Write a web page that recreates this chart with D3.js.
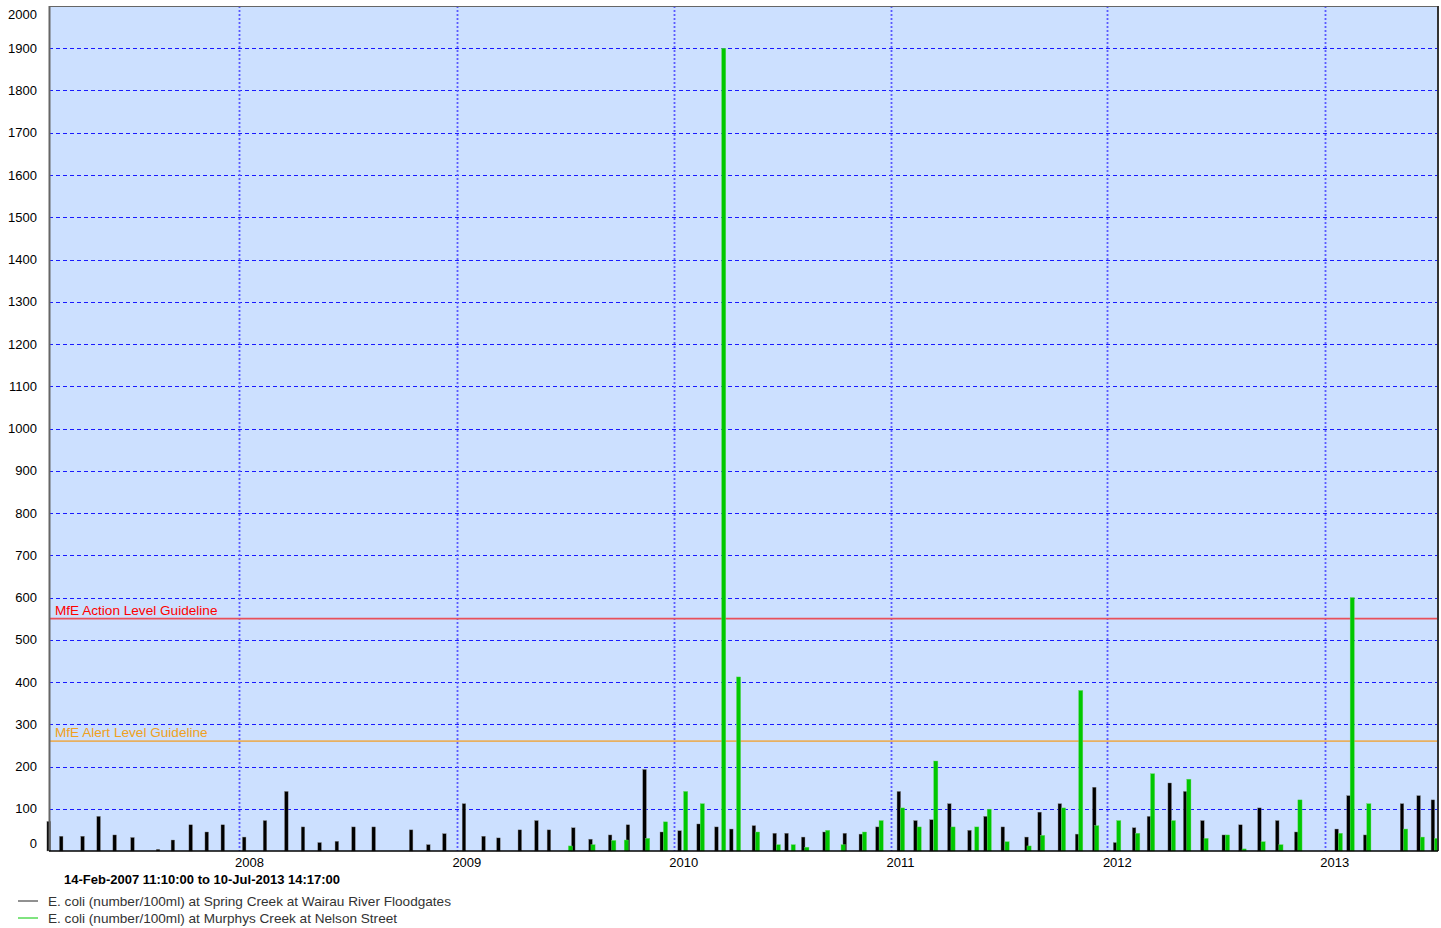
<!DOCTYPE html>
<html>
<head>
<meta charset="utf-8">
<script src="https://cdn.jsdelivr.net/npm/d3@7"></script>
<style>
  body { margin: 0; background: #fff; }
  svg { display: block; font-family: "Liberation Sans", Arial, sans-serif; }
</style>
</head>
<body>
<div id="chart"></div>
<script>
// Spring Creek at Wairau River Floodgates (black)
var springDates = ["2007-02-14","2007-03-07","2007-04-12","2007-05-09","2007-06-05","2007-07-05","2007-08-17","2007-09-11","2007-10-11","2007-11-07","2007-12-04",
  "2008-01-09","2008-02-13","2008-03-20","2008-04-17","2008-05-15","2008-06-13","2008-07-11","2008-08-14","2008-10-16","2008-11-14","2008-12-11",
  "2009-01-13","2009-02-15","2009-03-12","2009-04-17","2009-05-15","2009-06-05","2009-07-16","2009-08-14","2009-09-16","2009-10-16","2009-11-13","2009-12-12",
  "2010-01-11","2010-02-12","2010-03-14","2010-04-08","2010-05-16","2010-06-20","2010-07-10","2010-08-07","2010-09-12","2010-10-16","2010-11-12","2010-12-10",
  "2011-01-15","2011-02-12","2011-03-11","2011-04-10","2011-05-14","2011-06-10","2011-07-09","2011-08-18","2011-09-09","2011-10-13","2011-11-11","2011-12-10",
  "2012-01-14","2012-02-15","2012-03-11","2012-04-15","2012-05-11","2012-06-09","2012-07-15","2012-08-12","2012-09-13","2012-10-13","2012-11-14",
  "2013-01-21","2013-02-10","2013-03-10","2013-05-11","2013-06-08","2013-07-02"];
var springValues = [70,35,35,82,38,32,4,26,62,45,62,
  33,72,141,57,20,23,57,57,50,15,41,
  112,35,31,50,72,50,55,28,38,62,193,45,
  48,64,57,52,60,42,42,33,45,42,40,57,
  141,72,74,112,49,82,57,33,92,112,40,151,
  20,55,82,161,141,72,38,62,102,72,45,
  52,131,38,112,131,121];

// Murphys Creek at Nelson Street (green)
var murphysDates = ["2009-07-05","2009-08-12","2009-09-16","2009-10-07","2009-11-12","2009-12-12",
  "2010-01-15","2010-02-12","2010-03-20","2010-04-14","2010-05-16","2010-06-20","2010-07-15","2010-08-07","2010-09-11","2010-10-07","2010-11-12","2010-12-10",
  "2011-01-15","2011-02-12","2011-03-12","2011-04-10","2011-05-20","2011-06-10","2011-07-10","2011-08-16","2011-09-08","2011-10-13","2011-11-11","2011-12-08",
  "2012-01-14","2012-02-15","2012-03-11","2012-04-15","2012-05-11","2012-06-09","2012-07-15","2012-08-12","2012-09-13","2012-10-13","2012-11-14",
  "2013-01-21","2013-02-10","2013-03-10","2013-05-11","2013-06-08","2013-07-02"];
var murphysValues = [12,15,25,26,30,69,
  141,112,1900,412,45,15,15,9,49,15,45,72,
  102,57,213,57,57,99,22,12,37,102,380,60,
  72,42,183,72,170,30,38,5,22,15,121,
  42,600,112,52,33,30];

var guideValues = [550, 260];
var guideLabels = ["MfE Action Level Guideline", "MfE Alert Level Guideline"];
var guideColors = ["#e8505a", "#e8b060"];
var guideTextColors = ["#ff0000", "#f0a020"];

var yTicks = d3.range(0, 2001, 100);
var periodText = "14-Feb-2007 11:10:00 to 10-Jul-2013 14:17:00";
var seriesNames = ["E. coli (number/100ml) at Spring Creek at Wairau River Floodgates",
                   "E. coli (number/100ml) at Murphys Creek at Nelson Street"];
var seriesColors = ["#000000", "#00c800"];

var parseDate = d3.timeParse("%Y-%m-%d");
var parseFull = d3.timeParse("%d-%b-%Y %H:%M:%S");

var width = 1441, height = 928;
var margin = { top: 6, right: 3, bottom: 77, left: 49 };
var plotW = width - margin.left - margin.right;
var plotH = height - margin.top - margin.bottom;

var svg = d3.select("#chart").append("svg")
    .attr("width", width)
    .attr("height", height);

var x = d3.scaleTime()
    .domain([parseFull("14-Feb-2007 11:10:00"), parseFull("10-Jul-2013 14:17:00")])
    .range([0, plotW]);
var y = d3.scaleLinear()
    .domain([0, 2000])
    .range([plotH, 0]);

var g = svg.append("g").attr("transform", "translate(" + margin.left + "," + margin.top + ")");

g.append("rect")
    .attr("width", plotW)
    .attr("height", plotH)
    .attr("fill", "#cce0ff");

// horizontal grid
g.selectAll(".hgrid")
    .data(yTicks.filter(function(d){ return d > 0 && d < 2000; }))
    .enter().append("line")
    .attr("class", "hgrid")
    .attr("x1", 0).attr("x2", plotW)
    .attr("y1", function(d){ return Math.round(y(d)) + 0.5; })
    .attr("y2", function(d){ return Math.round(y(d)) + 0.5; })
    .attr("stroke", "#1a1aff")
    .attr("stroke-dasharray", "4,3");

// vertical grid at year starts
var years = x.ticks(d3.timeYear.every(1)).filter(function(d){ return x(d) > 1; });
g.selectAll(".vgrid")
    .data(years)
    .enter().append("line")
    .attr("class", "vgrid")
    .attr("y1", 0).attr("y2", plotH)
    .attr("x1", function(d){ return Math.round(x(d)) + 0.5; })
    .attr("x2", function(d){ return Math.round(x(d)) + 0.5; })
    .attr("stroke", "#5a5aff")
    .attr("stroke-width", 1.8)
    .attr("stroke-dasharray", "2,2");

// guideline lines
g.selectAll(".guide")
    .data(guideValues)
    .enter().append("line")
    .attr("x1", 0).attr("x2", plotW)
    .attr("y1", function(d){ return y(d); })
    .attr("y2", function(d){ return y(d); })
    .attr("stroke", function(d, i){ return guideColors[i]; })
    .attr("stroke-width", 1.6);

g.selectAll(".guideText")
    .data(guideValues)
    .enter().append("text")
    .attr("x", 6)
    .attr("y", function(d){ return y(d) - 4; })
    .attr("fill", function(d, i){ return guideTextColors[i]; })
    .style("font-size", "13.6px")
    .text(function(d, i){ return guideLabels[i]; });

// bars
var spring = springDates.map(function(d, i){ return { date: parseDate(d), value: springValues[i] }; });
var murphys = murphysDates.map(function(d, i){ return { date: parseDate(d), value: murphysValues[i] }; });

g.selectAll(".springBar")
    .data(spring)
    .enter().append("rect")
    .attr("class", "springBar")
    .attr("x", function(d){ return x(d.date) - 1.8; })
    .attr("width", 3.6)
    .attr("y", function(d){ return y(d.value); })
    .attr("height", function(d){ return plotH - y(d.value); })
    .attr("fill", seriesColors[0])
    .attr("stroke", "#8a8a8a")
    .attr("stroke-width", 0.4);

g.selectAll(".murphysBar")
    .data(murphys)
    .enter().append("rect")
    .attr("class", "murphysBar")
    .attr("x", function(d){ return x(d.date) + 1.6; })
    .attr("width", 4.2)
    .attr("y", function(d){ return y(d.value); })
    .attr("height", function(d){ return plotH - y(d.value); })
    .attr("fill", seriesColors[1])
    .attr("stroke", "#6ad86a")
    .attr("stroke-width", 0.4);

// frame
g.append("line").attr("x1", 0.5).attr("x2", 0.5).attr("y1", 0).attr("y2", plotH)
    .attr("stroke", "#666").attr("stroke-width", 2);
g.append("line").attr("x1", 0).attr("x2", plotW).attr("y1", 0.5).attr("y2", 0.5)
    .attr("stroke", "#666").attr("stroke-width", 1);
g.append("line").attr("x1", plotW).attr("x2", plotW).attr("y1", 0).attr("y2", plotH)
    .attr("stroke", "#333").attr("stroke-width", 2);
g.append("line").attr("x1", 0).attr("x2", plotW).attr("y1", plotH).attr("y2", plotH)
    .attr("stroke", "#000").attr("stroke-width", 1.5);

// y labels
g.selectAll(".ylab")
    .data(yTicks)
    .enter().append("text")
    .attr("x", -12)
    .attr("y", function(d){ return Math.min(Math.max(y(d), 8), plotH - 8); })
    .attr("dy", "0.35em")
    .attr("text-anchor", "end")
    .attr("fill", "#000")
    .style("font-size", "13px")
    .text(function(d){ return d; });

// x labels
g.selectAll(".xlab")
    .data(years)
    .enter().append("text")
    .attr("x", function(d){ return x(d) + 10; })
    .attr("y", plotH + 16)
    .attr("text-anchor", "middle")
    .style("font-size", "13px")
    .text(d3.timeFormat("%Y"));

svg.append("text")
    .attr("x", 64)
    .attr("y", 884)
    .style("font-size", "13px")
    .style("font-weight", "bold")
    .text(periodText);

var legend = svg.selectAll(".legend")
    .data(seriesNames)
    .enter().append("g")
    .attr("transform", function(d, i){ return "translate(0," + (901 + i * 17) + ")"; });
legend.append("line")
    .attr("x1", 18).attr("x2", 38)
    .attr("stroke", function(d, i){ return i === 0 ? "#222" : "#00c800"; })
    .attr("stroke-width", 1);
legend.append("text")
    .attr("x", 48)
    .attr("dy", "0.35em")
    .attr("fill", "#333")
    .style("font-size", "13.6px")
    .text(function(d){ return d; });
</script>
</body>
</html>
